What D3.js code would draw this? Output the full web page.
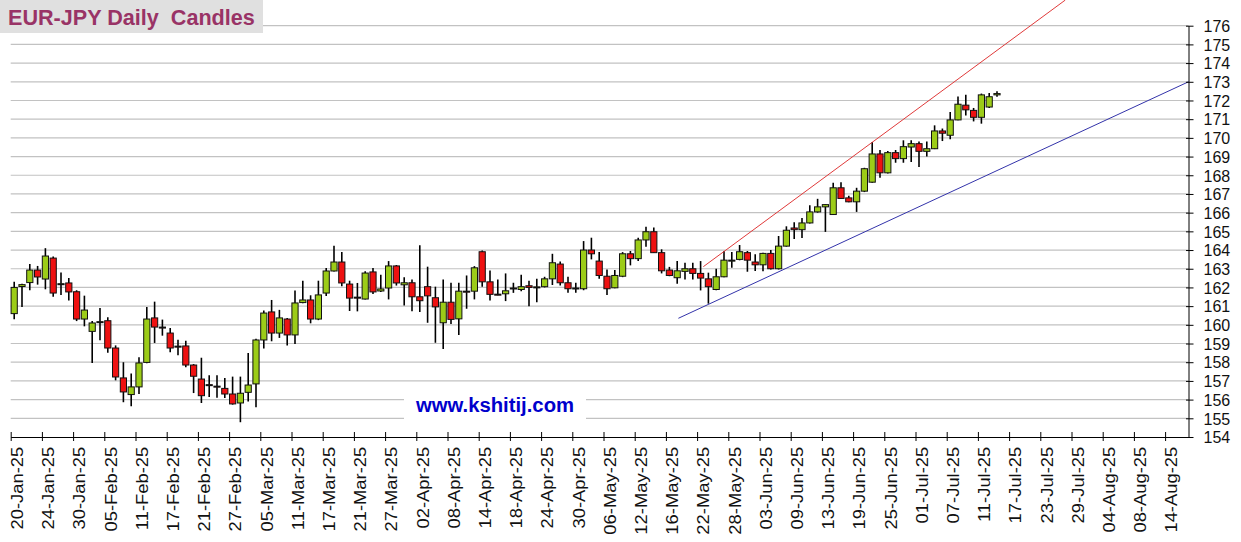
<!DOCTYPE html>
<html><head><meta charset="utf-8">
<script src="https://cdn.jsdelivr.net/npm/d3@7"></script>
<style>body{margin:0;background:#fff;} svg{display:block;}</style>
</head><body><svg id="c" width="1241" height="542"></svg>
<script>
const title = "EUR-JPY Daily  Candles";
const watermark = "www.kshitij.com";

const opens = [160.6,162.05,162.26,162.93,162.45,163.57,162.15,162.24,161.77,160.31,
159.65,160.15,160.22,158.76,157.16,156.27,156.68,157.99,160.37,159.88,
159.56,158.86,158.87,157.85,157.1,156.8,156.72,156.6,156.3,155.82,
156.39,156.84,159.19,160.69,159.56,160.31,159.46,161.19,161.33,160.31,
161.7,162.88,163.36,162.18,161.48,161.38,162.83,161.81,161.97,163.15,
162.14,162.25,161.5,162.04,161.45,160.11,161.21,160.32,161.8,161.8,
163.91,162.3,161.64,161.66,161.95,161.89,162.09,162.02,162.04,162.46,
163.25,162.25,161.95,161.93,164.0,163.41,162.6,161.98,162.6,163.8,
163.54,164.54,164.98,163.86,162.93,162.52,162.86,163.0,162.75,162.46,
161.89,162.57,163.44,163.5,163.86,163.36,163.21,163.82,163.0,164.21,
165.18,165.09,165.45,166.04,166.31,165.9,167.33,166.79,166.58,167.15,
167.63,169.14,168.13,169.21,168.89,169.51,169.69,169.28,169.42,170.37,
170.14,170.96,171.75,171.47,171.1,171.65,172.3];
const highs = [162.3,162.2,163.25,163.15,164.1,163.65,162.8,162.5,161.85,161.56,
160.2,160.9,160.4,158.9,158.0,157.4,158.26,160.95,161.24,160.28,
159.83,159.2,159.15,157.9,158.24,157.3,157.3,157.16,157.23,157.23,
158.49,159.26,160.76,161.33,160.8,160.37,161.83,162.36,161.58,162.36,
163.04,164.23,163.9,162.36,162.24,162.86,163.04,162.68,163.41,163.2,
162.54,162.43,164.25,163.11,162.04,162.43,162.25,162.25,162.64,163.14,
163.98,162.91,162.43,162.75,162.25,162.68,162.36,162.46,162.57,163.8,
163.39,162.57,162.25,164.48,164.66,163.89,162.96,162.93,163.89,163.95,
164.66,165.25,165.2,164.04,163.1,163.41,163.32,163.32,163.41,162.79,
163.0,163.95,163.89,164.27,163.95,163.77,163.86,164.0,164.75,165.27,
165.49,165.72,166.4,166.74,166.45,167.6,167.63,166.9,167.33,168.4,
169.78,169.35,169.3,169.35,169.87,169.87,169.8,169.8,170.67,170.5,
171.39,172.21,172.3,171.6,172.37,172.4,172.49];
const lows = [160.3,160.95,161.85,162.15,161.9,161.5,161.6,161.3,160.2,159.92,
157.96,159.17,158.5,157.03,155.86,155.64,156.3,157.95,159.03,159.42,
158.53,158.37,157.73,156.35,155.82,156.14,156.1,156.09,155.73,154.79,
155.9,155.59,158.73,159.12,159.3,158.9,158.98,161.15,160.08,160.25,
161.54,162.85,162.06,160.74,160.72,161.35,161.65,161.75,161.36,162.1,
161.04,160.73,160.68,160.11,159.04,158.71,160.04,159.46,160.86,161.36,
162.04,161.3,161.58,161.27,161.71,161.8,161.0,161.21,162.0,162.13,
162.1,161.71,161.71,161.85,163.5,162.46,161.6,161.95,162.55,163.18,
163.41,164.18,163.86,162.75,162.6,162.2,162.43,162.43,161.84,161.13,
161.85,162.55,163.05,163.45,162.84,162.88,162.86,162.96,162.96,164.18,
164.59,164.65,165.42,166.0,164.97,165.88,166.74,166.55,166.04,167.1,
167.6,167.87,168.1,168.67,168.67,168.71,168.44,169.0,169.4,169.83,
169.92,170.94,171.2,170.88,170.76,171.6,172.2];
const closes = [162.0,162.15,162.93,162.56,163.68,161.7,162.2,161.76,160.31,160.79,
160.1,160.17,158.76,157.21,156.41,156.68,157.96,160.31,159.88,159.86,
158.76,158.84,157.85,157.25,156.21,156.76,156.68,156.3,155.77,156.34,
156.78,159.19,160.63,159.56,160.37,159.46,161.17,161.33,160.31,161.6,
162.88,163.36,162.24,161.43,161.46,162.77,161.76,161.92,163.15,162.24,
162.25,161.5,161.29,161.55,160.96,161.21,160.29,161.8,161.78,163.05,
162.3,161.63,161.62,161.82,161.97,162.04,162.0,162.03,162.46,163.32,
162.25,161.93,161.97,164.0,163.8,162.64,161.93,162.64,163.8,163.54,
164.54,164.98,163.86,162.89,162.64,162.89,163.0,162.75,162.5,162.04,
162.57,163.46,163.46,163.91,163.46,163.21,163.82,163.0,164.21,165.06,
165.09,165.45,166.04,166.31,166.43,167.33,166.76,166.58,167.15,168.35,
169.14,168.13,169.21,168.89,169.53,169.69,169.28,169.42,170.37,170.25,
170.96,171.8,171.5,171.1,172.3,172.2,172.37];

const xTickLabels = ["20-Jan-25","24-Jan-25","30-Jan-25","05-Feb-25","11-Feb-25","17-Feb-25","21-Feb-25","27-Feb-25",
"05-Mar-25","11-Mar-25","17-Mar-25","21-Mar-25","27-Mar-25","02-Apr-25","08-Apr-25","14-Apr-25","18-Apr-25","24-Apr-25",
"30-Apr-25","06-May-25","12-May-25","16-May-25","22-May-25","28-May-25","03-Jun-25","09-Jun-25","13-Jun-25","19-Jun-25",
"25-Jun-25","01-Jul-25","07-Jul-25","11-Jul-25","17-Jul-25","23-Jul-25","29-Jul-25","04-Aug-25","08-Aug-25","14-Aug-25"];
const yTickValues = [154,155,156,157,158,159,160,161,162,163,164,165,166,167,168,169,170,171,172,173,174,175,176];

// trend lines: [trading-day index, price]
const redTrend = [[88.8,163.11],[135.2,177.37]];
const blueTrend = [[85.6,160.35],[151,173.0]];

const GREEN = "#9ccc18", RED = "#ee1111";
const FONT = "Liberation Sans, Arial, sans-serif";

const svg = d3.select("#c");
const x = d3.scaleLinear().domain([0,151]).range([10.7,1188.5]);
const y = d3.scaleLinear().domain([154,176]).range([437,25.7]);

// gridlines
svg.append("g").selectAll("line").data(yTickValues.filter(v=>v>154)).join("line")
  .attr("x1", x(0)).attr("x2", x(151))
  .attr("y1", d=>y(d)).attr("y2", d=>y(d))
  .attr("stroke","#c2c2c2").attr("stroke-width",1.2);

// watermark
const wm = svg.append("g");
wm.append("rect").attr("x",404).attr("y",391).attr("width",182).attr("height",28).attr("fill","#fff");
wm.append("text").attr("x",495).attr("y",412).attr("text-anchor","middle")
  .attr("font-family",FONT).attr("font-weight","bold").attr("font-size",20.3)
  .attr("fill","#0000cc").text(watermark);

// candles
const data = opens.map((o,i)=>({i, o, h:highs[i], l:lows[i], c:closes[i]}));
const bw = 6.2;
const cx = i => x(i) + 3.5;
const cg = svg.append("g");
cg.selectAll("line").data(data).join("line")
  .attr("x1", d=>cx(d.i)).attr("x2", d=>cx(d.i))
  .attr("y1", d=>y(d.h)).attr("y2", d=>y(d.l))
  .attr("stroke","#000").attr("stroke-width",1.6);
cg.selectAll("rect").data(data).join("rect")
  .attr("x", d=>cx(d.i)-bw/2).attr("width", bw)
  .attr("y", d=>y(Math.max(d.o,d.c)))
  .attr("height", d=>Math.max(1, Math.abs(y(d.o)-y(d.c))))
  .attr("fill", d=> d.c>=d.o ? GREEN : RED)
  .attr("stroke","#111").attr("stroke-width",1);

// trend lines
const line = d3.line().x(d=>x(d[0])).y(d=>y(d[1]));
svg.append("path").attr("d", line(redTrend)).attr("stroke","#e03a3a").attr("stroke-width",1).attr("fill","none");
svg.append("path").attr("d", line(blueTrend)).attr("stroke","#3333aa").attr("stroke-width",1).attr("fill","none");

// x axis
const xAxis = d3.axisBottom(x).tickValues(xTickLabels.map((d,i)=>i*4))
  .tickFormat((d,i)=>xTickLabels[i]).tickSize(4).tickSizeOuter(0);
const gx = svg.append("g").attr("transform",`translate(0,${y(154)})`).call(xAxis)
  .attr("font-family",FONT).attr("font-size",16);
gx.select(".domain").attr("stroke","#000");
gx.selectAll(".tick line").attr("y1",-5).attr("y2",4).attr("stroke","#000");
gx.selectAll(".tick text").attr("transform","translate(0,9.7) rotate(-90) scale(1.15,1)")
  .attr("x",0).attr("y",11.7).attr("dy",null).attr("text-anchor","end").attr("fill","#111");

// y axis (right)
const yAxis = d3.axisRight(y).tickValues(yTickValues).tickFormat(d=>d).tickSize(5).tickSizeOuter(0);
const gy = svg.append("g").attr("transform",`translate(${x(151)},0)`).call(yAxis)
  .attr("font-family",FONT).attr("font-size",16);
gy.select(".domain").attr("stroke","#000");
gy.selectAll(".tick line").attr("x1",-2.5).attr("x2",5).attr("stroke","#000");
gy.selectAll(".tick text").attr("x",15).attr("dy","0.36em").attr("fill","#111");

// title
svg.append("rect").attr("x",0).attr("y",0).attr("width",263).attr("height",33).attr("fill","#e0e0e0");
svg.append("text").attr("x",8).attr("y",25).attr("font-family",FONT).attr("font-weight","bold")
  .attr("font-size",21.6).attr("fill","#993366").style("white-space","pre").text(title);
</script>
</body></html>
